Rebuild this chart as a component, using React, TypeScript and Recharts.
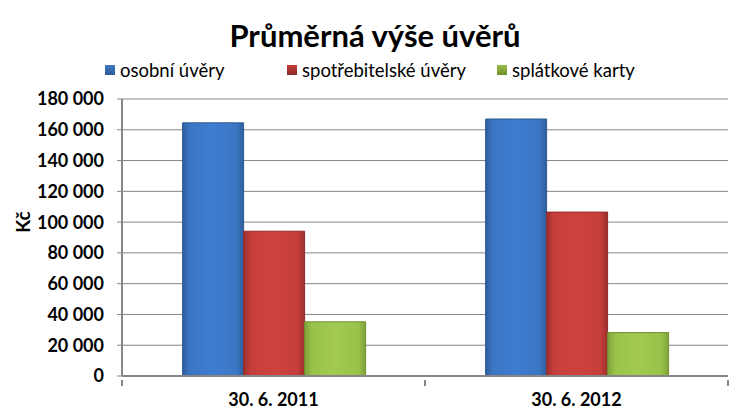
import React from "react";
import {
  BarChart,
  Bar,
  XAxis,
  YAxis,
  CartesianGrid,
} from "recharts";

const categories = ["30. 6. 2011", "30. 6. 2012"];
const osobni = [164500, 167000];
const spotrebitelske = [94100, 106500];
const splatkove = [35200, 28200];
const yTicks = [0, 20000, 40000, 60000, 80000, 100000, 120000, 140000, 160000, 180000];

const data = categories.map((name, i) => ({
  name,
  osobni: osobni[i],
  spotrebitelske: spotrebitelske[i],
  splatkove: splatkove[i],
}));

const series = [
  { key: "osobni", label: "osobní úvěry", grad: "gBlue", stroke: "#2c5a94", swatch: "#3f79c4" },
  { key: "spotrebitelske", label: "spotřebitelské úvěry", grad: "gRed", stroke: "#8f2a28", swatch: "#c63d3a" },
  { key: "splatkove", label: "splátkové karty", grad: "gGreen", stroke: "#6f8f2e", swatch: "#98c144" },
];

const FONT = "Lato, 'Open Sans', sans-serif";
const AXIS = "#868686";

const fmt = (v: number) =>
  v === 0 ? "0" : `${Math.floor(v / 1000)} ${String(v % 1000).padStart(3, "0")}`;

const legendX = [105, 287, 497];

const LegendContent = () => (
  <div style={{ position: "absolute", left: 0, top: 59, width: 750, height: 24 }}>
    {series.map((s, i) => (
      <div
        key={s.key}
        style={{
          position: "absolute",
          left: legendX[i],
          top: 0,
          display: "flex",
          alignItems: "center",
          fontFamily: FONT,
          fontSize: 18.5,
          lineHeight: "22px",
          color: "#000",
          whiteSpace: "nowrap",
        }}
      >
        <span
          style={{
            display: "inline-block",
            width: 10,
            height: 10,
            marginRight: 5,
            background: `linear-gradient(${s.swatch}, ${s.stroke})`,
          }}
        />
        {s.label}
      </div>
    ))}
  </div>
);

const CAT_W = 303;

const XTick = (props: any) => {
  const { x, y, payload, index } = props;
  const left = x - CAT_W / 2;
  return (
    <g>
      <line x1={left} y1={y - 4} x2={left} y2={y + 2} stroke={AXIS} strokeWidth={2} />
      {index === categories.length - 1 && (
        <line x1={left + CAT_W} y1={y - 4} x2={left + CAT_W} y2={y + 2} stroke={AXIS} strokeWidth={2} />
      )}
      <text
        x={x}
        y={y + 22}
        textAnchor="middle"
        fontFamily={FONT}
        fontWeight="bold"
        fontSize={18}
        fill="#000"
      >
        {payload.value}
      </text>
    </g>
  );
};

export default function App() {
  return (
    <div style={{ position: "absolute", left: 0, top: 0, width: 750, height: 414, background: "#fff" }}>
      <BarChart
        width={750}
        height={414}
        data={data}
        margin={{ top: 99, right: 22, left: 0, bottom: 8 }}
        barCategoryGap="20%"
        barGap={0}
      >
        <defs>
          <linearGradient id="gBlue" x1="0" y1="0" x2="1" y2="0">
            <stop offset="0%" stopColor="#2f5f9e" />
            <stop offset="12%" stopColor="#3b76c4" />
            <stop offset="50%" stopColor="#3f7dd0" />
            <stop offset="88%" stopColor="#3b76c4" />
            <stop offset="100%" stopColor="#2f5f9e" />
          </linearGradient>
          <linearGradient id="gRed" x1="0" y1="0" x2="1" y2="0">
            <stop offset="0%" stopColor="#9c2f2d" />
            <stop offset="12%" stopColor="#c63e3b" />
            <stop offset="50%" stopColor="#cc423f" />
            <stop offset="88%" stopColor="#c63e3b" />
            <stop offset="100%" stopColor="#9c2f2d" />
          </linearGradient>
          <linearGradient id="gGreen" x1="0" y1="0" x2="1" y2="0">
            <stop offset="0%" stopColor="#7fa23a" />
            <stop offset="12%" stopColor="#99c24a" />
            <stop offset="50%" stopColor="#a2ca52" />
            <stop offset="88%" stopColor="#99c24a" />
            <stop offset="100%" stopColor="#7fa23a" />
          </linearGradient>
        </defs>
        <text
          x={375}
          y={47}
          textAnchor="middle"
          fontFamily={FONT}
          fontWeight="bold"
          fontSize={31}
          fill="#000"
        >
          Průměrná výše úvěrů
        </text>
        <text
          x={0}
          y={0}
          transform="translate(30,222) rotate(-90)"
          textAnchor="middle"
          fontFamily={FONT}
          fontWeight="bold"
          fontSize={19}
          fill="#000"
        >
          Kč
        </text>
        <CartesianGrid vertical={false} stroke={AXIS} strokeWidth={1} />
        <XAxis
          dataKey="name"
          height={30}
          axisLine={{ stroke: AXIS, strokeWidth: 2 }}
          tickLine={false}
          tick={<XTick />}
          interval={0}
        />
        <YAxis
          width={122}
          domain={[0, 180000]}
          ticks={yTicks}
          interval={0}
          tickFormatter={fmt}
          axisLine={{ stroke: AXIS, strokeWidth: 2 }}
          tickLine={{ stroke: AXIS }}
          tickSize={5}
          tickMargin={13}
          tick={{ fontFamily: FONT, fontWeight: "bold", fontSize: 18, fill: "#000" }}
        />
        {series.map((s) => (
          <Bar
            key={s.key}
            dataKey={s.key}
            fill={`url(#${s.grad})`}
            stroke={s.stroke}
            strokeWidth={1}
            isAnimationActive={false}
          />
        ))}
      </BarChart>
      <LegendContent />
    </div>
  );
}
